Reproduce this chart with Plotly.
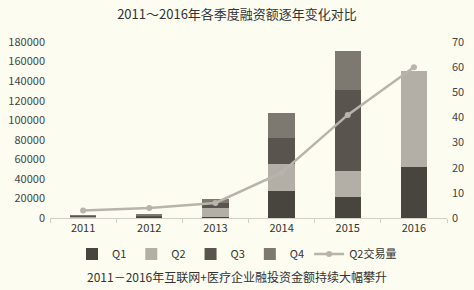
import plotly.graph_objects as go

years = ["2011", "2012", "2013", "2014", "2015", "2016"]
q1 = [800, 1200, 1000, 28000, 21500, 52000]
q2 = [600, 600, 9000, 27000, 26500, 98000]
q3 = [700, 1200, 5000, 27000, 83000, 0]
q4 = [900, 500, 4000, 25000, 40000, 0]
q2_deals = [3, 4, 6, 18, 41, 60]

left_ticks = list(range(0, 180001, 20000))
left_labels = [str(v) for v in left_ticks]
right_ticks = list(range(0, 71, 10))

colors = {"Q1": "#48443e", "Q2": "#b3aea6", "Q3": "#59544d", "Q4": "#7d7870"}
line_color = "#b8b4ac"
bg = "#fcfcf0"
font_main = "Noto Sans CJK SC, Noto Sans, sans-serif"

fig = go.Figure()
for name, vals in [("Q1", q1), ("Q2", q2), ("Q3", q3), ("Q4", q4)]:
    fig.add_trace(go.Bar(x=years, y=vals, name=name, marker_color=colors[name],
                         marker_line_width=0, width=0.4))
fig.add_trace(go.Scatter(x=years, y=q2_deals, name="Q2交易量", yaxis="y2",
                         mode="lines+markers",
                         line=dict(color=line_color, width=2.5),
                         marker=dict(color=line_color, size=6)))

fig.update_layout(
    width=474, height=290,
    margin=dict(l=50, r=27, t=42, b=72, autoexpand=False),
    paper_bgcolor=bg, plot_bgcolor=bg,
    barmode="stack",
    font=dict(family=font_main, size=11, color="#444"),
    title=dict(text="2011～2016年各季度融资额逐年变化对比", x=0.5, xanchor="center",
               y=1 - 14 / 290, yanchor="middle",
               font=dict(size=13, color="#333", family=font_main)),
    xaxis=dict(showline=True, linecolor="#d0d0c8", linewidth=1,
               ticks="outside", tickson="boundaries", ticklen=4, tickcolor="#d0d0c8",
               showgrid=False, tickfont=dict(size=11, color="#333")),
    yaxis=dict(range=[0, 180000], tickvals=left_ticks, ticktext=left_labels,
               showgrid=False, zeroline=False, showline=False, ticks="",
               tickfont=dict(size=11, color="#444"), ticklabelstandoff=4),
    yaxis2=dict(range=[0, 70], tickvals=right_ticks, overlaying="y", side="right",
                showgrid=False, zeroline=False, showline=False,
                tickfont=dict(size=11, color="#444"), ticklabelstandoff=4),
    legend=dict(orientation="h", xref="container", x=0.5, xanchor="center",
                yref="container", y=1 - 254 / 290, yanchor="middle",
                font=dict(size=11, color="#333"), itemwidth=30,
                bgcolor="rgba(0,0,0,0)", traceorder="normal"),
    annotations=[dict(text="2011－2016年互联网+医疗企业融投资金额持续大幅攀升",
                      xref="paper", yref="paper", x=(237 - 50) / 397, y=(218 - 276) / 176,
                      xanchor="center", yanchor="middle", showarrow=False,
                      font=dict(size=12, color="#333", family=font_main))],
)

fig.write_html("out.html")
